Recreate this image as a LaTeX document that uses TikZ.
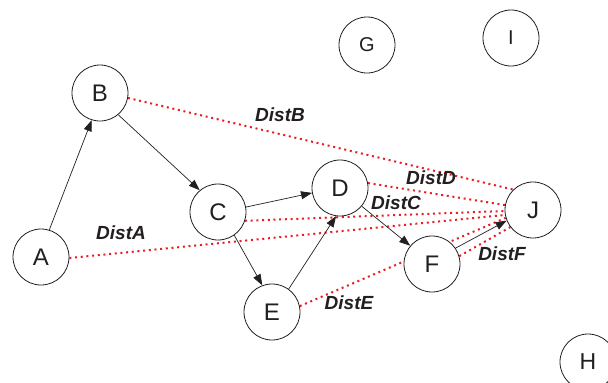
\documentclass[tikz,border=0pt]{standalone}
\usepackage{fontspec}
\setmainfont{Liberation Sans}
\usetikzlibrary{arrows.meta,backgrounds}
\definecolor{dotred}{RGB}{235,28,36}
\definecolor{ink}{RGB}{35,31,32}
\tikzset{
  vert/.style={circle,draw=ink,line width=0.8pt,fill=white,minimum size=56pt,inner sep=0pt,text=ink,font=\fontsize{24}{24}\selectfont},
  small/.style={font=\fontsize{20}{20}\selectfont},
  arr/.style={draw=ink,line width=0.7pt,-{Triangle[length=11pt,width=8pt]}},
  dist/.style={draw=dotred,line width=2pt,dash pattern=on 2pt off 3.7pt},
  lbl/.style={text=ink,font=\fontsize{19}{19}\selectfont\bfseries\itshape,inner sep=0pt}
}
\begin{document}
\begin{tikzpicture}[x=1pt,y=-1pt]
\useasboundingbox (0,0) rectangle (608,383);
\clip (0,0) rectangle (608,383);
\node[vert] (A) at (41,257) {A};
\node[vert] (B) at (100,93) {B};
\node[vert] (C) at (218,212) {C};
\node[vert] (D) at (340,188) {D};
\node[vert] (E) at (272,312) {E};
\node[vert] (F) at (432,264) {F};
\node[vert] (J) at (533,210) {J};
\node[vert,small] (G) at (367,45) {G};
\node[vert,small] (I) at (511,38) {I};
\node[vert,font=\fontsize{23}{23}\selectfont] (H) at (588,362) {H};
\begin{pgfonlayer}{background}
\draw[dist] (A.-2) -- (J.190);
\draw[dist] (B.-10) -- (J.134);
\draw[dist] (C.-18) -- (J.182);
\draw[dist] (D.10) -- (J.170);
\draw[dist] (E.12) -- (J.196);
\draw[dist] (F.16) -- (J.217);
\end{pgfonlayer}
\draw[arr] (A.73) -- (B.253);
\draw[arr] (B.-50) -- (C.130);
\draw[arr] (C.10) -- (D.190);
\draw[arr] (C.-55) -- (E.110);
\draw[arr] (E.54) -- (D.262);
\draw[arr] (D.-40) -- (F.140);
\draw[arr] (F.34) -- (J.202);
\node[lbl] (lB) at (280,115) {DistB};
\node[lbl] (lA) at (121,233) {DistA};
\node[lbl] (lD) at (431,178) {DistD};
\node[lbl] (lC) at (396,203) {DistC};
\node[lbl] (lF) at (502,254) {DistF};
\node[lbl] (lE) at (349,303) {DistE};
\end{tikzpicture}
\end{document}
